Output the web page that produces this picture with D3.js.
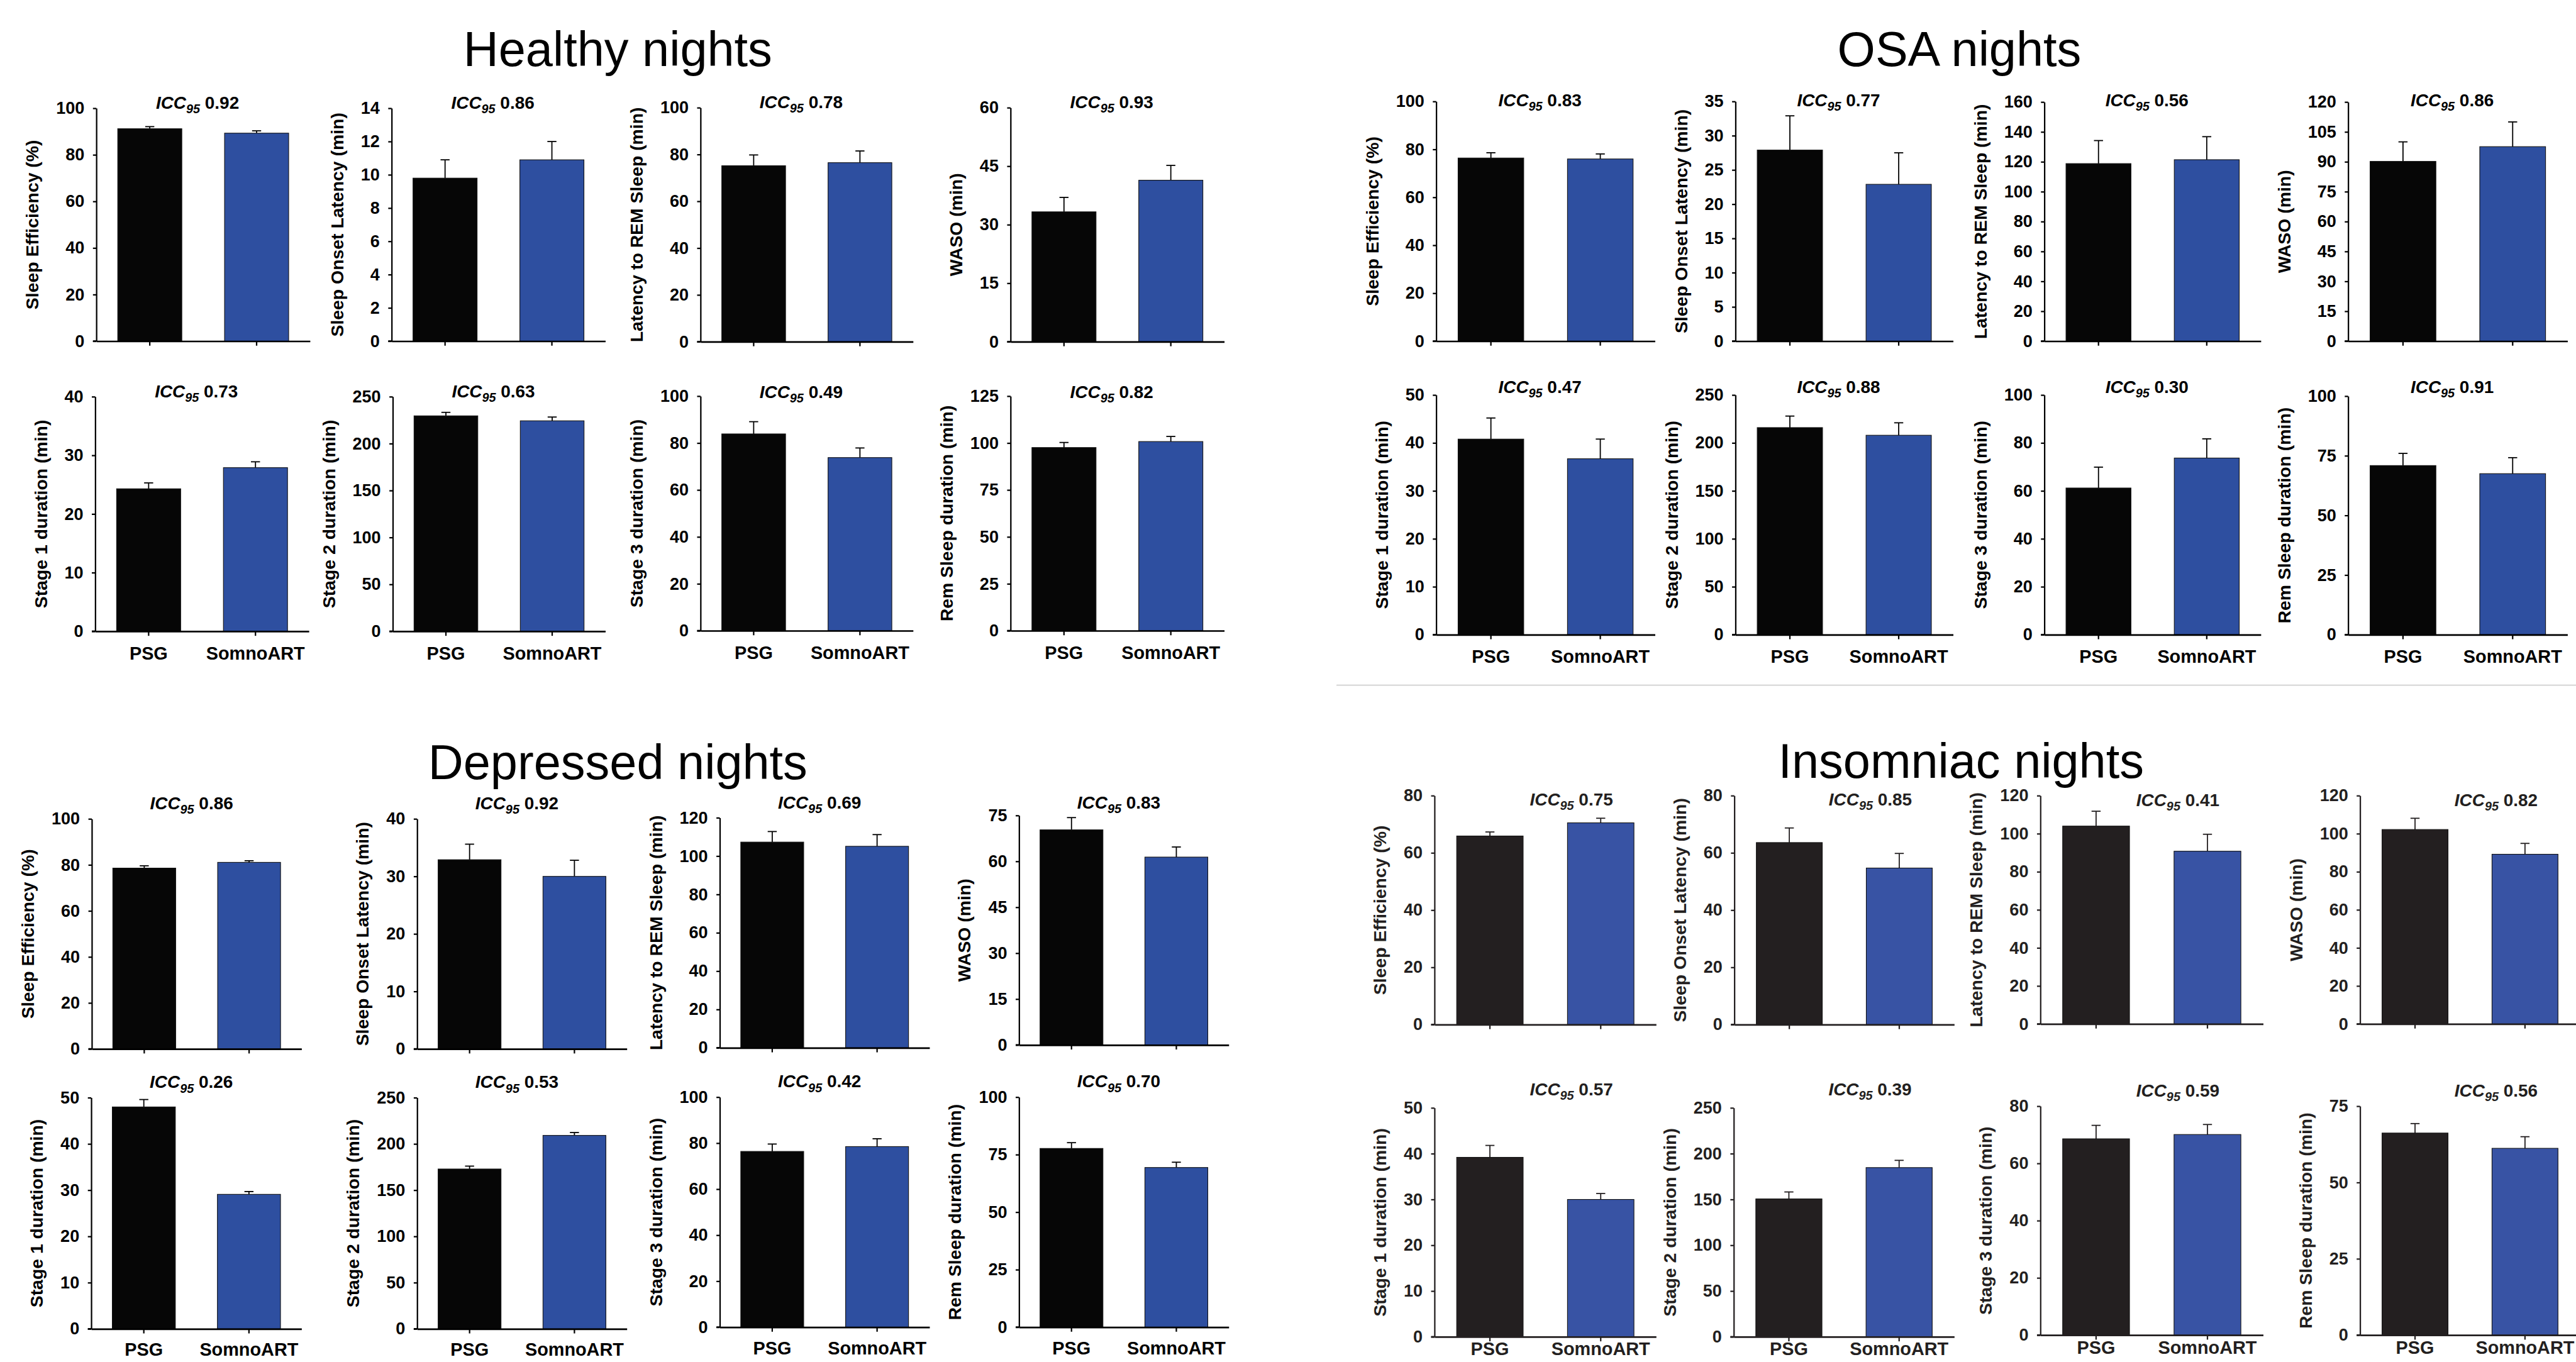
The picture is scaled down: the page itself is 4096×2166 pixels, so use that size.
<!DOCTYPE html>
<html><head><meta charset="utf-8">
<script src="https://cdn.jsdelivr.net/npm/d3@7"></script>
<style>
html,body{margin:0;padding:0;background:#fff;}
svg{display:block;}
text{font-family:"Liberation Sans", Arial, sans-serif;}
</style></head><body>
<svg id="chart" width="4096" height="2166"></svg>
<script>
// ---------------- DATA ----------------
const groups = ["PSG", "SomnoART"];
const measures = ["Sleep Efficiency (%)", "Sleep Onset Latency (min)", "Latency to REM Sleep (min)", "WASO (min)",
                  "Stage 1 duration (min)", "Stage 2 duration (min)", "Stage 3 duration (min)", "Rem Sleep duration (min)"];
const quadrantTitles = ["Healthy nights", "OSA nights", "Depressed nights", "Insomniac nights"];

// axis maxima and tick steps
const healthyMax = [100, 14, 100, 60, 40, 250, 100, 125];
const healthyStep = [20, 2, 20, 15, 10, 50, 20, 25];
const osaMax = [100, 35, 160, 120, 50, 250, 100, 100];
const osaStep = [20, 5, 20, 15, 10, 50, 20, 25];
const depMax = [100, 40, 120, 75, 50, 250, 100, 100];
const depStep = [20, 10, 20, 15, 10, 50, 20, 25];
const insMax = [80, 80, 120, 120, 50, 250, 80, 75];
const insStep = [20, 20, 20, 20, 10, 50, 20, 25];

// means and error (upper) values
const healthyPSG = [91.2, 9.8, 75.2, 33.3, 24.3, 229.6, 83.9, 97.6];
const healthyPSGErr = [0.9, 1.1, 4.6, 3.7, 1.0, 3.7, 5.2, 2.7];
const healthySomno = [89.3, 10.9, 76.5, 41.4, 27.9, 224.3, 73.8, 100.8];
const healthySomnoErr = [1.0, 1.1, 5.0, 3.8, 1.0, 4.0, 4.1, 2.7];
const healthyICC = ["0.92", "0.86", "0.78", "0.93", "0.73", "0.63", "0.49", "0.82"];

const osaPSG = [76.4, 27.9, 118.8, 90.2, 40.8, 216.0, 61.2, 70.9];
const osaPSGErr = [2.2, 5.0, 15.4, 9.8, 4.4, 12.0, 8.7, 5.1];
const osaSomno = [76.0, 22.9, 121.4, 97.6, 36.7, 208.0, 73.7, 67.5];
const osaSomnoErr = [2.1, 4.6, 15.4, 12.4, 4.1, 13.0, 8.0, 6.7];
const osaICC = ["0.83", "0.77", "0.56", "0.86", "0.47", "0.88", "0.30", "0.91"];

const depPSG = [78.6, 32.9, 107.3, 70.3, 48.0, 172.9, 76.4, 77.7];
const depPSGErr = [1.0, 2.7, 5.5, 4.0, 1.6, 3.1, 3.2, 2.5];
const depSomno = [81.1, 30.0, 105.1, 61.4, 29.1, 209.2, 78.5, 69.4];
const depSomnoErr = [0.7, 2.8, 6.1, 3.3, 0.6, 3.1, 3.4, 2.3];
const depICC = ["0.86", "0.92", "0.69", "0.83", "0.26", "0.53", "0.42", "0.70"];

const insPSG = [65.9, 63.6, 104.0, 102.2, 39.2, 150.6, 68.6, 66.2];
const insPSGErr = [1.4, 5.1, 7.8, 5.9, 2.6, 7.6, 4.7, 3.1];
const insSomno = [70.5, 54.7, 90.8, 89.2, 30.0, 184.8, 70.1, 61.2];
const insSomnoErr = [1.6, 5.1, 8.9, 5.7, 1.3, 7.9, 3.5, 3.8];
const insICC = ["0.75", "0.85", "0.41", "0.82", "0.57", "0.39", "0.59", "0.56"];

// ---------------- LAYOUT (reference pixel space) ----------------
const titlePos = [[1090, 116], [3457, 116], [1090, 1375], [3460, 1373]];
const axisLeft = [
  [170, 691, 1236, 1783, 168, 693, 1236, 1783],
  [2534, 3062, 3607, 4143, 2534, 3062, 3607, 4143],
  [162, 736, 1270, 1798, 161, 736, 1270, 1798],
  [2531, 3060, 3600, 4164, 2531, 3059, 3600, 4164]];
const axisRight = [
  [547, 1068, 1611, 2160, 545, 1068, 1611, 2160],
  [2920, 3446, 3989, 4530, 2920, 3446, 3989, 4530],
  [532, 1106, 1640, 2168, 532, 1106, 1640, 2168],
  [2922, 3448, 3993, 4552, 2922, 3448, 3993, 4552]];
const axisTop = [
  [191, 191, 190, 190, 700, 700, 699, 699],
  [179, 179, 180, 180, 697, 697, 697, 699],
  [1445, 1445, 1443, 1439, 1937, 1937, 1936, 1936],
  [1404, 1404, 1404, 1404, 1955, 1955, 1952, 1952]];
const axisBottom = [
  [602, 602, 603, 603, 1114, 1114, 1113, 1113],
  [602, 602, 602, 602, 1120, 1120, 1120, 1120],
  [1851, 1851, 1849, 1844, 2345, 2345, 2342, 2342],
  [1808, 1808, 1807, 1807, 2359, 2359, 2356, 2356]];
const iccBaseline = [
  [192, 192, 191, 191, 701, 701, 702, 702],
  [187, 187, 187, 187, 693, 693, 693, 693],
  [1428, 1428, 1427, 1427, 1920, 1920, 1919, 1919],
  [1421, 1421, 1422, 1422, 1933, 1933, 1935, 1935]];
const iccShift = [-10, -10, -9, 46];
const xLabelPad = [19, 19, 17, 2];
const barColors = [["#060606", "#2e4fa0"], ["#060606", "#2e4fa0"], ["#060606", "#2e4fa0"], ["#231f20", "#3853a4"]];
const inkColors = ["#000", "#000", "#000", "#231f20"];

const quads = [
  {max: healthyMax, step: healthyStep, psg: healthyPSG, psgE: healthyPSGErr, sa: healthySomno, saE: healthySomnoErr, icc: healthyICC},
  {max: osaMax, step: osaStep, psg: osaPSG, psgE: osaPSGErr, sa: osaSomno, saE: osaSomnoErr, icc: osaICC},
  {max: depMax, step: depStep, psg: depPSG, psgE: depPSGErr, sa: depSomno, saE: depSomnoErr, icc: depICC},
  {max: insMax, step: insStep, psg: insPSG, psgE: insPSGErr, sa: insSomno, saE: insSomnoErr, icc: insICC}];

// ---------------- DRAW ----------------
const svg = d3.select("#chart");
const root = svg.append("g").attr("transform", `scale(${4096 / 4545})`);
root.append("rect").attr("width", 4545).attr("height", 2403).attr("fill", "#fff");

// separator line between OSA and Insomniac blocks
root.append("line").attr("x1", 2358).attr("x2", 4545).attr("y1", 1209).attr("y2", 1209)
  .attr("stroke", "#cfcfcf").attr("stroke-width", 2);

quadrantTitles.forEach((t, q) => {
  root.append("text").attr("x", titlePos[q][0]).attr("y", titlePos[q][1])
    .attr("text-anchor", "middle").attr("font-size", 86).attr("fill", "#000").text(t);
});

quads.forEach((Q, q) => {
  const ink = inkColors[q];
  for (let i = 0; i < 8; i++) {
    const ax = axisLeft[q][i], ar = axisRight[q][i], yT = axisTop[q][i], yB = axisBottom[q][i];
    const g = root.append("g");
    const y = d3.scaleLinear().domain([0, Q.max[i]]).range([yB, yT]);
    const x = d3.scaleBand().domain(groups).range([ax, ar]).paddingInner(0.4).paddingOuter(0.2);
    const rows = [
      {grp: "PSG", v: Q.psg[i], e: Q.psgE[i], c: barColors[q][0]},
      {grp: "SomnoART", v: Q.sa[i], e: Q.saE[i], c: barColors[q][1]}];

    // error bars (upper only)
    rows.forEach(d => {
      const cx = x(d.grp) + x.bandwidth() / 2;
      g.append("line").attr("x1", cx).attr("x2", cx).attr("y1", y(d.v)).attr("y2", y(d.v + d.e))
        .attr("stroke", ink).attr("stroke-width", 2);
      g.append("line").attr("x1", cx - 8).attr("x2", cx + 8).attr("y1", y(d.v + d.e)).attr("y2", y(d.v + d.e))
        .attr("stroke", ink).attr("stroke-width", 2);
    });
    // bars
    g.selectAll("rect.bar").data(rows).join("rect").attr("class", "bar")
      .attr("x", d => x(d.grp)).attr("width", x.bandwidth())
      .attr("y", d => y(d.v)).attr("height", d => yB - y(d.v))
      .attr("fill", d => d.c).attr("stroke", "#111").attr("stroke-width", 1.2);

    // y axis
    const ticks = d3.range(0, Q.max[i] + Q.step[i] / 2, Q.step[i]);
    const yAxis = g.append("g").attr("transform", `translate(${ax},0)`)
      .call(d3.axisLeft(y).tickValues(ticks).tickSize(6).tickSizeOuter(0).tickPadding(15).tickFormat(d3.format("d")));
    yAxis.selectAll("path.domain").attr("stroke", ink).attr("stroke-width", 2.5);
    yAxis.selectAll(".tick line").attr("stroke", ink).attr("stroke-width", 2.5);
    yAxis.selectAll(".tick text").attr("font-size", 30).attr("font-weight", "bold").attr("fill", ink)
      .attr("font-family", "Liberation Sans, Arial, sans-serif");

    // x axis
    const row2 = i >= 4;
    const xAxis = g.append("g").attr("transform", `translate(0,${yB})`)
      .call(d3.axisBottom(x).tickSize(8).tickSizeOuter(0).tickPadding(xLabelPad[q]).tickFormat(d => row2 ? d : ""));
    xAxis.selectAll("path.domain").attr("stroke", ink).attr("stroke-width", 3);
    xAxis.selectAll(".tick line").attr("stroke", ink).attr("stroke-width", 2.5);
    xAxis.selectAll(".tick text").attr("font-size", 32).attr("font-weight", "bold").attr("fill", ink)
      .attr("font-family", "Liberation Sans, Arial, sans-serif");
    g.append("line").attr("x1", ax - 6).attr("x2", ax).attr("y1", yB).attr("y2", yB)
      .attr("stroke", ink).attr("stroke-width", 3);

    // y title placed left of widest tick label
    let maxW = 0;
    yAxis.selectAll(".tick text").each(function () { maxW = Math.max(maxW, this.getComputedTextLength()); });
    const tx = ax - 21 - maxW - 42, ty = (yT + yB) / 2;
    g.append("text").attr("transform", `translate(${tx},${ty}) rotate(-90)`)
      .attr("text-anchor", "middle").attr("dy", "0.35em")
      .attr("font-size", 31.5).attr("font-weight", "bold").attr("fill", ink).text(measures[i]);

    // ICC label
    const mid = (x("PSG") + x("SomnoART") + x.bandwidth()) / 2 + iccShift[q];
    const t = g.append("text").attr("x", mid).attr("y", iccBaseline[q][i]).attr("text-anchor", "middle")
      .attr("font-size", 31).attr("font-weight", "bold").attr("fill", ink);
    t.append("tspan").attr("font-style", "italic").text("ICC");
    t.append("tspan").attr("font-style", "italic").attr("font-size", 22).attr("dy", 8).text("95");
    t.append("tspan").attr("dy", -8).text("\u00a00." + Q.icc[i].slice(2));
  }
});
</script>
</body></html>
